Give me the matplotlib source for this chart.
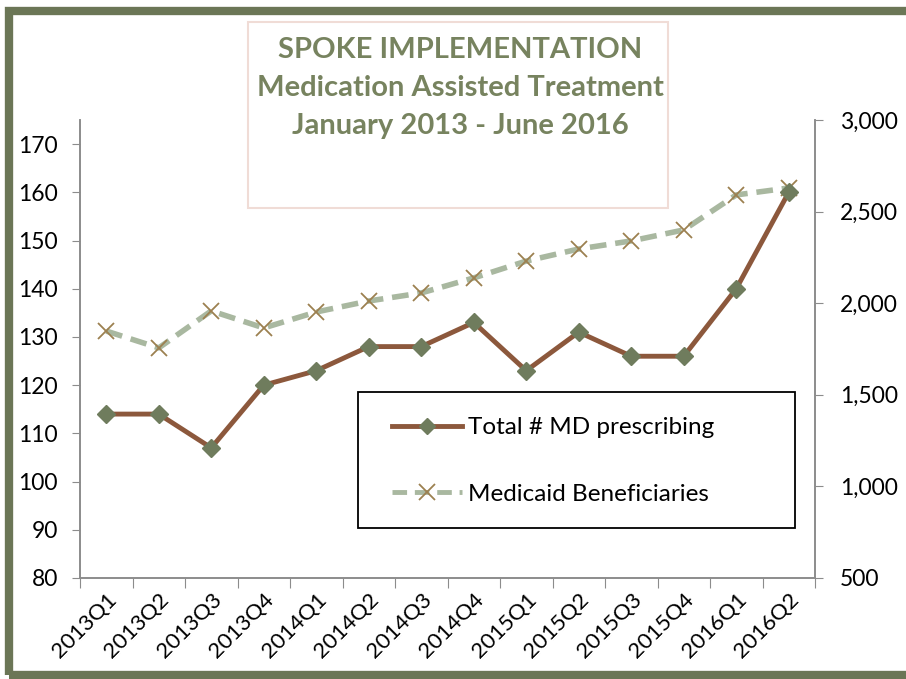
import matplotlib
matplotlib.use('Agg')
from matplotlib import pyplot as plt
from matplotlib.patches import Rectangle
from matplotlib.lines import Line2D

quarters = ['2013Q1', '2013Q2', '2013Q3', '2013Q4', '2014Q1', '2014Q2', '2014Q3',
            '2014Q4', '2015Q1', '2015Q2', '2015Q3', '2015Q4', '2016Q1', '2016Q2']
md_prescribing = [114, 114, 107, 120, 123, 128, 128, 133, 123, 131, 126, 126, 140, 160]
beneficiaries = [1848, 1756, 1958, 1865, 1952, 2012, 2056, 2138, 2230, 2296, 2340, 2400, 2591, 2629]

left_ticks = list(range(80, 171, 10))
right_ticks = list(range(500, 3001, 500))

plt.rcParams['font.family'] = ['Lato', 'DejaVu Sans']

fig = plt.figure(figsize=(9.06, 6.79), dpi=100)
ax = fig.add_axes([80/906, 1-578/679, (815-80)/906, (578-120)/679])
ax2 = ax.twinx()

x = list(range(len(quarters)))
ax2.plot(x, beneficiaries, color='#a9b8a0', ls=(0, (3, 1.6)), lw=4, zorder=2)
ax2.plot(x, beneficiaries, ls='none', marker='x', ms=12, mew=1.3, color='#9c8050', zorder=3)
ax.plot(x, md_prescribing, color='#8c583c', lw=3.5, marker='D', ms=9,
        mfc='#6f7c5d', mec='#6f7c5d', zorder=4)
ax.set_zorder(ax2.get_zorder() + 1)
ax.patch.set_visible(False)

ax.set_xlim(-0.5, len(quarters) - 0.5)
ax.set_ylim(80, 175)
ax2.set_ylim(500, 3000)
ax.set_yticks(left_ticks)
ax.set_yticklabels([str(v) for v in left_ticks])
ax2.set_yticks(right_ticks)
ax2.set_yticklabels(['{:,}'.format(v) for v in right_ticks])

ax.set_xticks([i - 0.5 for i in range(len(quarters) + 1)])
ax.set_xticklabels([])
ax.set_xticks(x, minor=True)
ax.set_xticklabels(quarters, minor=True, rotation=45, ha='right', rotation_mode='anchor')
ax.tick_params(axis='x', which='minor', length=0, labelsize=16, pad=8)
ax.tick_params(axis='x', which='major', length=7, color='#8c8c8c', direction='out')
ax.tick_params(axis='y', length=6, color='#8c8c8c', labelsize=16.5, pad=10)
ax2.tick_params(axis='y', length=6, color='#8c8c8c', labelsize=16.5, pad=12)

for a in (ax, ax2):
    for s in a.spines.values():
        s.set_color('#8c8c8c')
        s.set_linewidth(1.2)
    a.spines['top'].set_visible(False)

# legend box drawn separately so the frame and the entries can be placed on their own
fig.patches.append(Rectangle((358/906, 1-528/679), (795-358)/906, (528-392)/679,
                             transform=fig.transFigure, facecolor='white',
                             edgecolor='black', lw=1.3, zorder=7))
handles = [
    Line2D([], [], color='#8c583c', lw=3.5, marker='D', ms=8, mfc='#6f7c5d', mec='#6f7c5d'),
    Line2D([], [], color='#a9b8a0', lw=3.5, ls=(0, (3, 1.6)), marker='x', ms=12, mew=1.3,
           mec='#9c8050'),
]
leg = fig.legend(handles, ['Total # MD prescribing', 'Medicaid Beneficiaries'],
                 loc='center left', bbox_to_anchor=(392/906, 1-461/679),
                 fontsize=17.5, frameon=False, borderpad=0, borderaxespad=0,
                 labelspacing=1.86, handlelength=2.88, handletextpad=0.25)
leg.set_zorder(8)

fig.patches.append(Rectangle((248/906, 1-208/679), (668-248)/906, (208-22)/679,
                             transform=fig.transFigure, facecolor='white',
                             edgecolor='#f0dcd6', lw=1.5, zorder=5))
fig.text(460/906, 1-88/679, 'SPOKE IMPLEMENTATION\nMedication Assisted Treatment\nJanuary 2013 - June 2016',
         ha='center', va='center', fontsize=21, fontweight='bold', color='#77835f',
         linespacing=1.55, zorder=6)

fig.patches.append(Rectangle((9/906, 4/679), 1.0, 1-15/679, transform=fig.transFigure,
                             facecolor='none', edgecolor='#6b7656', lw=6, zorder=10))

fig.savefig('out.png', dpi=100)
